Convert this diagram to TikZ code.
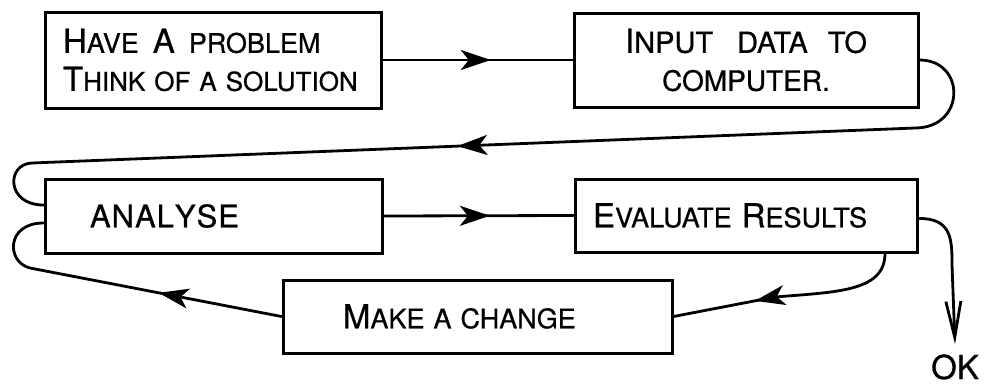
\documentclass[tikz,border=0pt]{standalone}
\usepackage{fontspec}
\setmainfont{TeX Gyre Heros}[FakeBold=0.7]
\usetikzlibrary{arrows.meta,decorations.markings}
% a taller initial letter, as in hand lettering
\newcommand\Ini[1]{{\fontsize{33}{38}\selectfont #1}}
\newcommand\gap[1]{\hspace{#1pt}}
\begin{document}
\begin{tikzpicture}[x=1pt,y=-1pt,
  stage/.style={draw, rectangle, line width=3pt, inner sep=0pt,
    font=\fontsize{27}{38}\selectfont},
  flow/.style={line width=2.8pt, line cap=round, line join=round},
  midtip/.style={postaction={decorate}, decoration={markings,
    mark=at position #1 with {\arrow{Stealth[length=30pt,width=20pt,inset=8pt]}}}}]
\useasboundingbox (0,0) rectangle (988,386);

% the five stages
\node[stage, minimum width=336pt, minimum height=96pt, text width=300pt, align=left]
  (prob) at (213,60) {\Ini{H}AVE\gap{14}\Ini{A}\gap{14}PROBLEM\\
    {\fontsize{26}{38}\selectfont\Ini{T}HINK OF A SOLUTION}};
\node[stage, minimum width=344pt, minimum height=94pt, text width=320pt, align=center,
  font=\fontsize{28}{38}\selectfont]
  (inp) at (746,60) {{\fontsize{29}{38}\selectfont\Ini{I}NPUT\gap{24}DATA\gap{20}TO}\\COMPUTER.};
\node[stage, minimum width=337pt, minimum height=74pt, text width=247pt, align=left,
  font=\fontsize{31}{38}\selectfont]
  (ana) at (213.5,216) {A\kern1pt N\kern1pt A\kern1pt L\kern1pt Y\kern1pt S\kern1pt E};
\node[stage, minimum width=342pt, minimum height=73pt, text width=306pt, align=left]
  (eval) at (746,215.5) {\Ini{E}VALUATE\gap{10}\Ini{R}ESULTS};
\node[stage, minimum width=389pt, minimum height=73pt, text width=269pt, align=left]
  (chg) at (477.5,316.5) {\Ini{M}AKE A CHANGE};
\node[font=\fontsize{33}{33}\selectfont, inner sep=0pt, anchor=base] (ok) at (955,379) {OK};

% turning points of the loops (yshift is in page direction: positive = up)
\coordinate (r1) at (915,128);
\coordinate (l1) at (32,163);
\coordinate (l2) at (30,268);
\coordinate (eb) at ([xshift=139pt]eval.south);
\coordinate (e2) at (775,297);
\coordinate (er) at ([yshift=-3pt]eval.east);
\coordinate (okin) at ([yshift=10pt]ok.north);
\coordinate (aup) at ([yshift=11pt]ana.west);
\coordinate (alo) at ([yshift=-7pt]ana.west);

% connectors
\draw[flow, midtip=0.57] (prob.east) -- (inp.west);
\draw[flow, midtip=570pt] (inp.east) .. controls (966,60) and (966,128) .. (r1)
  -- (l1) .. controls (6,164) and (6,205) .. (aup);
\draw[flow, midtip=0.56] (ana.east) -- (eval.west);
\draw[flow, midtip=150pt] (eb) .. controls (885,292) and (835,292) .. (e2) -- (chg.east);
\draw[flow, midtip=125pt] (chg.west) -- (l2) .. controls (6,262) and (6,223) .. (alo);
\draw[flow, -{Straight Barb[length=36pt,width=15pt]}] (er) .. controls (952,218) and (952,240) .. (952,265) -- (okin);
\end{tikzpicture}
\end{document}
